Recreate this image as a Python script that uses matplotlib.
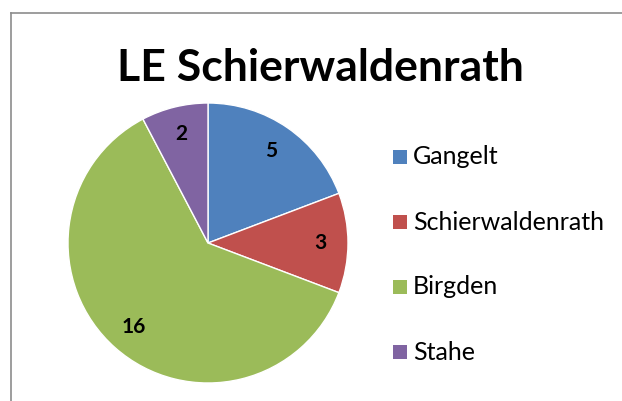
import matplotlib
matplotlib.use("Agg")
import matplotlib.pyplot as plt
from matplotlib.patches import Rectangle

categories = ["Gangelt", "Schierwaldenrath", "Birgden", "Stahe"]
values = [5, 3, 16, 2]
colors = ["#4F81BD", "#C0504D", "#9BBB59", "#8064A2"]
title = "LE Schierwaldenrath"

W, H = 622, 401
fig = plt.figure(figsize=(W / 100, H / 100), dpi=100)
fig.patch.set_facecolor("white")
plt.rcParams['font.family'] = ['Lato', 'DejaVu Sans']

# chart border (left & top visible)
fig.add_artist(plt.Line2D([11 / W, 11 / W], [0, 1 - 13 / H], transform=fig.transFigure,
                          color="#8c8c8c", lw=1.2))
fig.add_artist(plt.Line2D([11 / W, 1], [1 - 13 / H, 1 - 13 / H], transform=fig.transFigure,
                          color="#8c8c8c", lw=1.2))

cx, cy, r = 208, 243, 140
ax = fig.add_axes([(cx - r) / W, 1 - (cy + r) / H, 2 * r / W, 2 * r / H])
total = sum(values)
wedges, texts, autotexts = ax.pie(
    values, colors=colors, startangle=90, counterclock=False,
    autopct=lambda p: f"{round(p * total / 100):d}", pctdistance=0.8,
    wedgeprops=dict(edgecolor="white", linewidth=1.0),
    textprops=dict(fontsize=15, fontweight="bold", color="black"))
ax.set_xlim(-1, 1)
ax.set_ylim(-1, 1)
ax.set_aspect("equal")
ax.axis("off")

fig.text(320 / W, 1 - 68 / H, title, ha="center", va="center",
         fontsize=32, fontweight="bold", color="black")

# legend
ys = [157, 222, 287, 352]
for cat, col, y in zip(categories, colors, ys):
    fig.add_artist(Rectangle((393 / W, 1 - (y + 7) / H), 14 / W, 14 / H,
                             transform=fig.transFigure, facecolor=col, edgecolor="none"))
    fig.text(413 / W, 1 - y / H, cat, ha="left", va="center", fontsize=18, color="black")

fig.savefig("out.png", dpi=100)
